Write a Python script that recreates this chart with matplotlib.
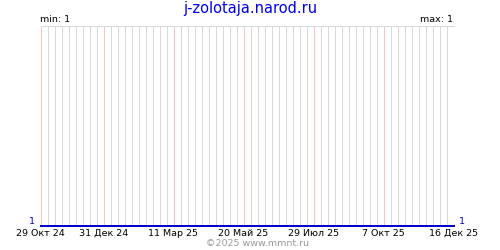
import matplotlib
matplotlib.use('Agg')
import matplotlib.pyplot as plt
import pandas as pd

# данные графика
dates = ['2024-10-29', '2025-12-16']
values = [1, 1]
tick_dates = ['2024-10-29', '2024-12-31', '2025-03-11', '2025-05-20',
              '2025-07-29', '2025-10-07', '2025-12-16']
tick_labels = ['29 Окт 24', '31 Дек 24', '11 Мар 25', '20 Май 25',
               '29 Июл 25', '7 Окт 25', '16 Дек 25']
title = 'j-zolotaja.narod.ru'
copyright_text = '©2025 www.mmnt.ru'

plt.rcParams['font.family'] = ['DejaVu Sans']

x = pd.to_datetime(dates)
ticks = pd.to_datetime(tick_dates)
weeks = pd.date_range(x[0], x[-1], freq='7D')

px = 72 / 100  # один пиксель в пунктах

fig = plt.figure(figsize=(5, 2.5), dpi=100)
ax = fig.add_axes([40.5 / 500, 24.5 / 250, 413 / 500, 200 / 250])

# недельная сетка
for d in weeks:
    ax.axvline(d, color='#d9d9d9', lw=px, zorder=1, antialiased=False)
# розовые линии на подписях
for d in ticks:
    ax.axvline(d, color='#ffc0c0', lw=px, zorder=2, antialiased=False)

ax.plot(x, values, color='#0000cc', lw=1.5 * px, zorder=3, clip_on=False,
        antialiased=False)

ax.set_xlim(x[0], x[-1])
ax.set_ylim(min(values), max(values) + 1)
for s in ['left', 'right', 'bottom']:
    ax.spines[s].set_visible(False)
ax.spines['top'].set_color('#d9d9d9')
ax.spines['top'].set_linewidth(px)
ax.spines['top'].set_antialiased(False)

ax.set_xticks(ticks)
ax.set_xticklabels(tick_labels, fontsize=6.8)
ax.tick_params(axis='x', length=0, pad=2.5)
ax.set_yticks([])

# подписи значений
ax.text(-0.014, -0.004, str(min(values)), transform=ax.transAxes,
        color='#0000cc', fontsize=6.8, ha='right', va='bottom')
ax.text(1.014, -0.004, str(max(values)), transform=ax.transAxes,
        color='#0000cc', fontsize=6.8, ha='left', va='bottom')
ax.text(0.0, 1.01, 'min: ' + str(min(values)), transform=ax.transAxes,
        fontsize=6.8, ha='left', va='bottom')
ax.text(1.0, 1.01, 'max: ' + str(max(values)), transform=ax.transAxes,
        fontsize=6.8, ha='right', va='bottom')

fig.text(0.5, 1 - 9 / 250, title, color='#0000ee', fontsize=10.5,
         ha='center', va='center')
fig.text(258 / 500, 1 - 244 / 250, copyright_text, color='#999999',
         fontsize=6.8, ha='center', va='center')

fig.savefig('out.png', dpi=100)
